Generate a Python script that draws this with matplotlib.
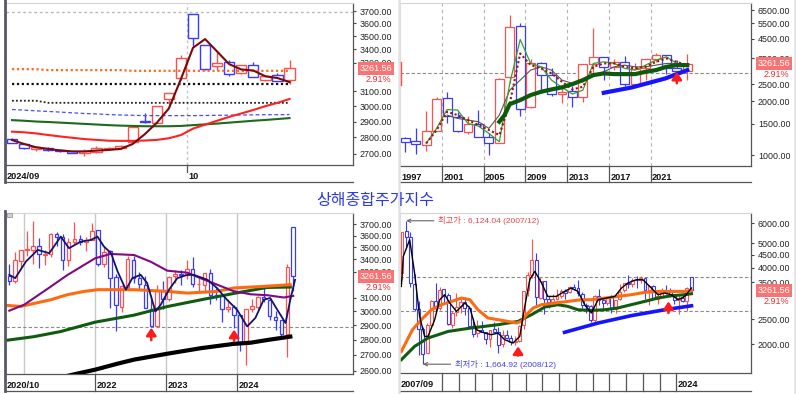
import matplotlib
matplotlib.use("Agg")
import matplotlib.pyplot as plt
from matplotlib import transforms
from matplotlib.patches import Rectangle
from matplotlib.ticker import FixedLocator, FixedFormatter, NullLocator

plt.rcParams['font.family'] = ['Liberation Sans', 'Noto Sans CJK KR', 'DejaVu Sans']

W, H = 796, 394
UP, DN = '#ff5050', '#3a3aff'

last_price = 3261.56
last_pct = '2.91%'

# ---------------- 일봉 (2024/09/06 ~ 2024/10/18) ----------------
tl_open = [2788, 2757, 2732, 2737, 2722, 2717, 2705, 2714, 2733, 2734, 2770, 2901,
           2893, 3049, 3195, 3674, 3433, 3276, 3306, 3224, 3288, 3180, 3214, 3178]
tl_high = [2796, 2760, 2745, 2743, 2727, 2720, 2730, 2746, 2743, 2755, 2864, 2952,
           3000, 3087, 3358, 3674, 3433, 3382, 3318, 3284, 3308, 3215, 3231, 3322]
tl_low = [2765, 2729, 2718, 2718, 2710, 2703, 2689, 2707, 2728, 2728, 2763, 2889,
          2889, 3017, 3180, 3429, 3250, 3251, 3205, 3218, 3200, 3174, 3168, 3152]
tl_close = [2765.8, 2736.5, 2744.2, 2721.8, 2717.1, 2704.1, 2717.3, 2736.0, 2736.8, 2748.9,
            2863.1, 2896.3, 3000.9, 3087.5, 3336.5, 3489.8, 3258.9, 3301.9, 3217.7, 3284.3,
            3201.2, 3202.9, 3169.4, 3261.56]
tl_ma_short = [2784, 2760, 2740, 2730, 2721, 2715, 2715, 2720, 2724, 2730, 2760, 2820,
               2892, 2985, 3185, 3412, 3478, 3384, 3291, 3253, 3245, 3204, 3192, 3163]
tl_ma_red = [2836, 2832, 2825, 2815, 2806, 2798, 2790, 2785, 2780, 2779, 2779, 2781,
             2785, 2795, 2815, 2855, 2880, 2905, 2930, 2952, 2975, 3000, 3022, 3048]
tl_ma_green = [2909, 2905, 2900, 2897, 2893, 2889, 2885, 2881, 2877, 2874, 2872, 2870,
               2870, 2870, 2872, 2877, 2882, 2887, 2893, 2899, 2905, 2910, 2916, 2922]
tl_ma_blue = [2978, 2974, 2969, 2965, 2961, 2956, 2952, 2949, 2945, 2942, 2940, 2938,
              2938, 2938, 2938, 2938, 2939, 2940, 2941, 2942, 2943, 2944, 2944, 2945]
tl_lvl_orange = [3255, 3255, 3255, 3248, 3248, 3248, 3248, 3248, 3248, 3248, 3243, 3243,
                 3243, 3243, 3243, 3243, 3243, 3243, 3243, 3243, 3243, 3243, 3243, 3243]
tl_lvl_black1 = [3150] * 24
tl_lvl_black2 = [3036, 3036, 3036] + [3022] * 21
tl_top_line = 3690
tl_month_sep = 14.5
tl_ticks = [2700, 2800, 2900, 3000, 3100, 3300, 3400, 3500, 3600, 3700]

# ---------------- 년봉 (1997 ~ 2024) ----------------
tr_years = list(range(1997, 2025))
tr_open = [1240, 1195, 1144, 1368, 2077, 1643, 1347, 1492, 1261, 1163, 2728, 5265, 1849, 3289,
           2825, 2212, 2289, 2112, 3258, 3536, 3105, 3314, 2497, 3066, 3474, 3649, 3087, 2972]
tr_high = [1270, 1422, 1756, 2125, 2245, 1748, 1649, 1783, 1328, 2698, 6124, 5522, 3478, 3306,
           3067, 2478, 2444, 3239, 5178, 3538, 3450, 3587, 3288, 3474, 3731, 3652, 3418, 3674]
tr_low = [1043, 1013, 1047, 1361, 1514, 1339, 1307, 1259, 998, 1161, 2541, 1664, 1844, 2319,
          2134, 1949, 1849, 1974, 2850, 2638, 3016, 2449, 2440, 2646, 3312, 2863, 2882, 2635]
tr_close = [1187, 1147, 1367, 2073, 1646, 1358, 1497, 1267, 1161, 2675, 5262, 1821, 3277, 2808,
            2199, 2269, 2116, 3235, 3539, 3104, 3307, 2494, 3050, 3473, 3640, 3089, 2975, 3262]
tr_green_x = list(range(2, 28))
tr_green_v = [1163, 1411, 1800, 1788, 1504, 1454, 1323, 1188, 2523, 4450, 3266, 3126, 2633,
              2396, 2198, 2314, 3266, 3334, 3266, 3062, 2996, 3196, 3408, 3557, 3266, 3126]
tr_dot_x = list(range(2, 28))
tr_dot_v = [1163, 1381, 1749, 1675, 1571, 1473, 1381, 1295, 1950, 3715, 3196, 3062, 2871,
            2576, 2334, 2415, 3126, 3266, 3266, 3126, 3062, 3126, 3334, 3483, 3334, 3196]
tr_gray_x = list(range(4, 28))
tr_gray_v = [1675, 1605, 1571, 1538, 1411, 1675, 2314, 2633, 2996, 3126, 2996, 2633, 2523,
             2576, 2808, 2931, 3126, 3196, 3126, 3126, 3196, 3266, 3266, 3196]
tr_thick_x = [9, 9.5, 10, 11, 12, 13, 14, 15, 16, 17, 18, 19, 20, 21, 22, 23, 24, 25, 26, 27]
tr_thick_v = [1538, 1675, 1930, 2034, 2170, 2265, 2334, 2396, 2500, 2633, 2808, 2871, 2845,
              2845, 2845, 2931, 2996, 3126, 3196, 3196]
tr_trend_x = [19, 21.7, 24.9, 27]
tr_trend_v = [2235, 2396, 2690, 2996]
tr_hline = 2892
tr_arrow = (26, 2525, 2930)
tr_ticks = [1000, 1500, 2000, 2500, 3500, 4500, 5500, 6500]

# ---------------- 월봉 (2020/10 ~ 2024/10) ----------------
bl_open = [3262, 3229, 3388, 3474, 3476, 3513, 3439, 3447, 3616, 3587, 3396, 3545, 3568, 3545,
           3563, 3649, 3358, 3471, 3257, 3032, 3181, 3392, 3251, 3196, 3013, 2896, 3147, 3087,
           3262, 3282, 3273, 3323, 3201, 3198, 3289, 3122, 3112, 3015, 3030, 2973, 2781, 3013,
           3033, 3104, 3083, 2958, 2934, 2842, 3674]
bl_high = [3365, 3457, 3475, 3637, 3732, 3581, 3481, 3625, 3629, 3615, 3581, 3723, 3602, 3591,
           3708, 3652, 3514, 3477, 3282, 3195, 3429, 3424, 3299, 3264, 3116, 3198, 3226, 3265,
           3310, 3311, 3396, 3418, 3261, 3291, 3322, 3172, 3115, 3089, 3047, 2976, 3015, 3092,
           3113, 3175, 3093, 3003, 2935, 3358, 3674]
bl_low = [3195, 3209, 3326, 3431, 3358, 3328, 3357, 3416, 3511, 3312, 3343, 3525, 3515, 3470,
          3559, 3348, 3341, 3023, 2863, 2997, 3173, 3211, 3155, 3021, 2886, 2885, 3017, 3074,
          3208, 3195, 3243, 3181, 3150, 3135, 3053, 3081, 2923, 2996, 2882, 2724, 2635, 2993,
          3012, 3069, 2934, 2865, 2815, 2689, 3152]
bl_close = [3225, 3392, 3473, 3483, 3509, 3442, 3447, 3615, 3591, 3397, 3544, 3568, 3547, 3564,
            3640, 3362, 3462, 3252, 3047, 3186, 3399, 3253, 3202, 3024, 2893, 3151, 3089, 3256,
            3280, 3273, 3323, 3205, 3202, 3291, 3120, 3110, 3019, 3030, 2975, 2789, 3015, 3041,
            3104, 3087, 2967, 2939, 2842, 3336, 3262]
bl_navy_x = [0, 1, 2.8, 4.8, 6.75, 8.7, 10.1, 12.1, 13.8, 14.9, 16, 17.2, 18.3, 19.7, 20.8,
             22.2, 23.3, 24.7, 25.6, 27, 28.4, 30.1, 31.2, 33.5, 35.1, 36.8, 38.5, 40.2, 41.6,
             43, 44.1, 45.3, 46.7, 47.5, 48.3]
bl_navy_v = [3275, 3249, 3381, 3478, 3450, 3591, 3492, 3548, 3562, 3591, 3506, 3450, 3302,
             3160, 3249, 3275, 3211, 2998, 3048, 3160, 3249, 3275, 3275, 3236, 3173, 3084,
             3011, 2892, 2952, 3084, 3097, 3011, 2916, 3084, 3236]
bl_purple_x = [0, 2.5, 7.0, 9.8, 14.5, 17.1, 21.1, 23.9, 26.7, 30.1, 32.3, 35.1, 37.9, 40.8,
               43.6, 46.4, 48]
bl_purple_v = [3004, 3047, 3183, 3273, 3408, 3444, 3435, 3380, 3308, 3292, 3249, 3199, 3149,
               3125, 3118, 3101, 3113]
bl_orange_x = [-0.3, 1.9, 7.0, 9.8, 12.7, 15, 21, 26.7, 30.1, 35.1, 38, 43, 47.5]
bl_orange_v = [3042, 3035, 3084, 3122, 3147, 3160, 3160, 3147, 3134, 3147, 3173, 3185, 3198]
bl_green_x = [-0.3, 4.2, 8.7, 14.5, 21.1, 26.7, 32.3, 37.9, 43.6, 47.5]
bl_green_v = [2798, 2822, 2857, 2922, 2972, 3034, 3083, 3131, 3177, 3180]
bl_black_x = [9, 11.2, 14.5, 18.3, 21.1, 26.7, 32.3, 37.9, 40.8, 43.6, 47.5]
bl_black_v = [2560, 2579, 2606, 2644, 2670, 2708, 2744, 2773, 2781, 2799, 2822]
bl_hline = 2885
bl_arrows = [(24, 2798, 2883), (38, 2793, 2870)]
bl_year_sep = [2.5, 14.5, 26.5, 38.5]
bl_year_lab = ['', '2022', '2023', '2024']
bl_ticks = [2600, 2700, 2800, 2900, 3000, 3100, 3300, 3400, 3500, 3600, 3700]

# ---------------- 분기봉 (2007/09 ~ 2024/12) ----------------
br_open = [3820, 5562, 5265, 3461, 2741, 2294, 1849, 2379, 2967, 2775, 3289, 3115, 2379, 2665,
           2825, 2932, 2767, 2363, 2212, 2262, 2226, 2087, 2289, 2234, 1994, 2170, 2112, 2034,
           2050, 2366, 3258, 3740, 4277, 3038, 3536, 3007, 2931, 3002, 3105, 3226, 3197, 3352,
           3314, 3163, 2840, 2818, 2497, 3101, 2988, 2909, 3066, 2743, 3000, 3262, 3474, 3439,
           3587, 3568, 3649, 3257, 3392, 3013, 3087, 3273, 3198, 3112, 2973, 3033, 2958, 3674]
br_high = [5552, 6124, 5522, 3786, 2953, 2334, 2429, 2991, 3478, 3361, 3306, 3181, 2700, 3186,
           3003, 3067, 2827, 2536, 2478, 2454, 2228, 2276, 2444, 2334, 2270, 2271, 2177, 2146,
           2375, 3239, 3835, 5178, 4572, 3684, 3538, 3097, 3140, 3301, 3301, 3295, 3391, 3450,
           3587, 3220, 2915, 2842, 3130, 3288, 3048, 3050, 3127, 2995, 3458, 3475, 3732, 3629,
           3723, 3708, 3652, 3429, 3424, 3226, 3311, 3418, 3322, 3115, 3092, 3175, 3358, 3674]
br_low = [3563, 4778, 3357, 2693, 1802, 1665, 1844, 2353, 2639, 2712, 2890, 2382, 2319, 2574,
          2661, 2610, 2307, 2134, 2132, 2224, 2000, 1949, 2204, 1849, 1951, 2087, 1974, 1991,
          2044, 2296, 3095, 3654, 2850, 3023, 2638, 2781, 2917, 2969, 3044, 3016, 3176, 3255,
          3091, 2782, 2644, 2449, 2440, 2838, 2733, 2857, 2647, 2646, 2994, 3195, 3328, 3357,
          3312, 3470, 3023, 2863, 3021, 2886, 3074, 3150, 3053, 2882, 2635, 2934, 2689, 3152]
br_close = [5552, 5262, 3473, 2736, 2293, 1821, 2374, 2959, 2779, 3277, 3109, 2398, 2656, 2808,
            2928, 2762, 2359, 2199, 2263, 2225, 2086, 2269, 2237, 1979, 2175, 2116, 2033, 2048,
            2364, 3235, 3748, 4277, 3053, 3539, 3004, 2930, 3005, 3104, 3223, 3192, 3349, 3307,
            3169, 2847, 2821, 2494, 3091, 2979, 2905, 3050, 2750, 2985, 3218, 3473, 3442, 3591,
            3568, 3640, 3252, 3399, 3024, 3089, 3273, 3202, 3110, 2975, 3041, 2967, 3336, 3262]
br_black_x = [-0.16, 0.3, 1.83, 3.0, 4.2, 5.4, 6.2, 7.8, 9.0, 10.2, 11.4, 13.0, 15.0, 16.2,
              17.7, 19.7, 21.3, 22.9, 24.5, 26.5, 28.1, 29.3, 30.5, 31.7, 33.3, 34.8, 36.8,
              38.8, 40.4, 42.0, 43.6, 45.2, 46.8, 48.8, 50.8, 52.4, 53.9, 55.9, 57.5, 59.5,
              61.1, 62.7, 64.3, 65.9, 67.5, 69.1]
br_black_v = [3374, 4431, 5157, 3811, 2571, 2143, 2143, 2494, 2990, 3129, 2902, 2689, 2902,
              2774, 2278, 2210, 2176, 2210, 2080, 2018, 2143, 2814, 3586, 3870, 3480, 3081,
              3081, 3224, 3326, 3224, 2858, 2651, 2990, 3036, 3081, 3326, 3480, 3586, 3586,
              3326, 3129, 3177, 3129, 2990, 3081, 3326]
br_orange_x = [-0.16, 2.5, 5.0, 7.0, 9.4, 11.8, 14.2, 16.2, 18.1, 20.5, 22.9, 25.3, 27.3, 28.5,
               29.7, 31.3, 33.3, 36.4, 39.6, 42.8, 45.2, 48.4, 51.5, 54.7, 57.9, 61.1, 64.3,
               67.5, 69.1]
br_orange_v = [1869, 2278, 2533, 2730, 2858, 2944, 3036, 2990, 2730, 2533, 2494, 2456, 2420,
               2456, 2610, 2774, 2858, 2902, 2944, 2990, 2990, 3036, 3081, 3129, 3196, 3224,
               3224, 3224, 3245]
br_green_x = [-0.16, 3.0, 6.2, 11.0, 16.5, 22.9, 27.7, 30.9, 34.1, 37.2, 39.6, 42.0, 45.2,
              48.4, 51.5, 54.7, 57.9, 61.1, 64.3, 67.5, 69.1]
br_green_v = [1734, 1957, 2111, 2242, 2313, 2383, 2456, 2610, 2798, 2858, 2814, 2730, 2714,
              2730, 2774, 2858, 2944, 3036, 3100, 3129, 3158]
br_trend_x = [38.8, 46.8, 54.7, 62.7, 69.1]
br_trend_v = [2224, 2420, 2587, 2730, 2830]
br_hlines = [3674, 2689]
br_arrows = [(27.7, 1800, 1957), (63.6, 2651, 2944)]
br_hi = (1, 6124.04, '최고가 : 6,124.04 (2007/12)')
br_lo = (5, 1664.92, '최저가 : 1,664.92 (2008/12)')
br_ticks = [2000, 2500, 3500, 4000, 4500, 5000, 6000]


fig = plt.figure(figsize=(W / 100, H / 100), dpi=100)


def rect(x0, y0, x1, y1):
    return [x0 / W, 1 - y1 / H, (x1 - x0) / W, (y1 - y0) / H]


def candles(ax, o, h, l, c, w, lw):
    for i, (oo, hh, ll, cc) in enumerate(zip(o, h, l, c)):
        col = UP if cc >= oo else DN
        ax.vlines(i, ll, hh, color=col, lw=lw, zorder=3)
        ax.bar(i, abs(cc - oo), bottom=min(oo, cc), width=w, facecolor='white',
               edgecolor=col, lw=lw, zorder=4)


def setup(ax, xlim, ylim, ticks):
    ax.set_yscale('log')
    ax.set_xlim(*xlim)
    ax.set_ylim(*ylim)
    ax.yaxis.tick_right()
    ax.yaxis.set_major_locator(FixedLocator(ticks))
    ax.yaxis.set_major_formatter(FixedFormatter(['%.2f' % t for t in ticks]))
    ax.yaxis.set_minor_locator(NullLocator())
    ax.tick_params(axis='y', direction='out', length=2.5, width=0.8, pad=2.5,
                   labelsize=6.4, colors='#444', labelcolor='#222')
    ax.set_xticks([])
    for s in ['top', 'left']:
        ax.spines[s].set_color('#d4d4d4')
        ax.spines[s].set_linewidth(0.8)
    for s in ['right', 'bottom']:
        ax.spines[s].set_color('#555555')
        ax.spines[s].set_linewidth(0.9)


def last_box(ax):
    tr = transforms.blended_transform_factory(ax.transAxes, ax.transData)
    ax.annotate('%.2f' % last_price, xy=(1, last_price), xycoords=tr, xytext=(16.5, 0),
                textcoords='offset points', ha='center', va='center', fontsize=6.5,
                color='white', annotation_clip=False, zorder=20,
                bbox=dict(boxstyle='square,pad=0.22', fc='#f87474', ec='none'))
    ax.annotate(last_pct, xy=(1, last_price), xycoords=tr, xytext=(18, -8),
                textcoords='offset points', ha='center', va='center', fontsize=6.5,
                color='#f03030', annotation_clip=False, zorder=20)


def band(ax, depth, seps, labels, first, sep_full=True):
    bt = transforms.blended_transform_factory(ax.transData, ax.transAxes)
    ax.plot([0, 1], [-depth, -depth], transform=ax.transAxes, color='#555555', lw=0.9,
            clip_on=False)
    x0 = ax.get_xlim()[0]
    ax.annotate(first, xy=(x0, 0), xycoords=bt, xytext=(0.8, -8.4), textcoords='offset points',
                ha='left', va='center', fontsize=6.6, fontweight='bold', color='#111',
                annotation_clip=False)
    for s, lab in zip(seps, labels):
        ax.plot([s, s], [0, -depth if sep_full else -0.045], transform=bt, color='#555555',
                lw=0.9, clip_on=False)
        if lab:
            ax.annotate(lab, xy=(s, 0), xycoords=bt, xytext=(0.9, -8.4),
                        textcoords='offset points', ha='left', va='center', fontsize=6.6,
                        fontweight='bold', color='#111', annotation_clip=False)


def up_arrow(ax, x, tail, tip):
    ax.annotate('', xy=(x, tip), xytext=(x, tail), zorder=9,
                arrowprops=dict(arrowstyle='-|>,head_width=0.3,head_length=0.45',
                                color='#ff1a1a', lw=1.8, shrinkA=0, shrinkB=0,
                                mutation_scale=10))


# ---------- top-left: daily ----------
ax1 = fig.add_axes(rect(6, 3, 353, 165))
setup(ax1, (-0.5, 28.26), (2635, 3766), tl_ticks)
xs = range(len(tl_close))
ax1.axhline(tl_top_line, color='#b8b8b8', lw=1, ls=(0, (2, 2)), zorder=1)
ax1.axvline(tl_month_sep, color='#c4c4c4', lw=1, ls=(0, (2, 2)), zorder=1)
candles(ax1, tl_open, tl_high, tl_low, tl_close, 0.85, 1.0)
ax1.plot(xs, tl_lvl_orange, color='#ff6a1a', lw=1.6, ls=(0, (1, 1.2)), zorder=5)
ax1.plot(xs, tl_lvl_black1, color='#111111', lw=1.6, ls=(0, (1, 1.2)), zorder=5)
ax1.plot(xs, tl_lvl_black2, color='#222222', lw=1.3, ls=(0, (1, 1.2)), zorder=5)
ax1.plot(xs, tl_ma_blue, color='#4a4aff', lw=0.9, ls=(0, (3, 2)), zorder=5)
ax1.plot(xs, tl_ma_green, color='#1d6a1d', lw=1.5, zorder=5)
ax1.plot(xs, tl_ma_red, color='#ff2222', lw=1.5, zorder=5)
ax1.plot(xs, tl_ma_short, color='#7a0a0a', lw=1.5, zorder=6)
last_box(ax1)
band(ax1, 0.105, [tl_month_sep], ['10'], '2024/09', sep_full=False)

# ---------- top-right: yearly ----------
ax2 = fig.add_axes(rect(400, 3, 751, 166))
setup(ax2, (-0.51, 33.1), (868, 7130), tr_ticks)
xs = range(len(tr_close))
for k in range(len(tr_years)):
    if tr_years[k] % 4 == 1 and k > 0:
        ax2.axvline(k - 0.5, color='#b4b4b4', lw=0.8, ls=(0, (3, 3)), zorder=1)
ax2.axhline(tr_hline, color='#8a8a8a', lw=0.8, ls=(0, (3, 2)), zorder=1)
candles(ax2, tr_open, tr_high, tr_low, tr_close, 0.85, 0.9)
ax2.plot(tr_gray_x, tr_gray_v, color='#555555', lw=0.8, zorder=5)
ax2.plot(tr_green_x, tr_green_v, color='#33a033', lw=0.9, zorder=5)
ax2.plot(tr_dot_x, tr_dot_v, color='#a01010', lw=1.5, ls=(0, (1, 1.2)), zorder=5)
ax2.plot(tr_thick_x, tr_thick_v, color='#0c5a0c', lw=3.0, zorder=6)
ax2.plot(tr_trend_x, tr_trend_v, color='#1414ff', lw=3.0, zorder=6)
up_arrow(ax2, *tr_arrow)
last_box(ax2)
seps = [k - 0.5 for k in range(1, len(tr_years)) if tr_years[k] % 4 == 1]
labs = [str(tr_years[k]) for k in range(1, len(tr_years)) if tr_years[k] % 4 == 1]
band(ax2, 0.098, seps, labs, str(tr_years[0]))

# ---------- bottom-left: monthly ----------
ax3 = fig.add_axes(rect(6, 213, 353, 374))
setup(ax3, (-0.56, 58.1), (2579, 3801), bl_ticks)
for s in bl_year_sep:
    ax3.axvline(s, color='#c8c8c8', lw=1, zorder=1)
ax3.axhline(bl_hline, color='#8a8a8a', lw=0.8, ls=(0, (3, 2)), zorder=1)
candles(ax3, bl_open, bl_high, bl_low, bl_close, 0.6, 0.9)
ax3.plot(bl_black_x, bl_black_v, color='#000000', lw=3.0, zorder=5)
ax3.plot(bl_green_x, bl_green_v, color='#0f5c0f', lw=2.2, zorder=5)
ax3.plot(bl_orange_x, bl_orange_v, color='#ff6a10', lw=2.2, zorder=5)
ax3.plot(bl_purple_x, bl_purple_v, color='#800a80', lw=1.5, zorder=6)
ax3.plot(bl_navy_x, bl_navy_v, color='#14146a', lw=1.3, zorder=6)
for a in bl_arrows:
    up_arrow(ax3, *a)
last_box(ax3)
band(ax3, 0.106, bl_year_sep[1:], bl_year_lab[1:], '2020/10')

# ---------- bottom-right: quarterly ----------
ax4 = fig.add_axes(rect(400, 213, 751, 373))
setup(ax4, (-0.48, 83.3), (1537, 6572), br_ticks)
for v in br_hlines:
    ax4.axhline(v, color='#8a8a8a', lw=0.8, ls=(0, (3, 2)), zorder=1)
candles(ax4, br_open, br_high, br_low, br_close, 0.7, 0.8)
ax4.plot(br_green_x, br_green_v, color='#0f5c0f', lw=2.2, zorder=5)
ax4.plot(br_orange_x, br_orange_v, color='#ff6a10', lw=2.2, zorder=5)
ax4.plot(br_trend_x, br_trend_v, color='#1414ff', lw=2.6, zorder=5)
ax4.plot(br_black_x, br_black_v, color='#000000', lw=1.0, zorder=6)
for a in br_arrows:
    up_arrow(ax4, *a)
ax4.annotate(br_hi[2], xy=(br_hi[0], br_hi[1]), xytext=(8.6, br_hi[1]), fontsize=6,
             color='#ee4444', ha='left', va='center', zorder=9,
             arrowprops=dict(arrowstyle='->', color='#666666', lw=0.8, relpos=(0, 0.5),
                             shrinkA=1, shrinkB=0))
ax4.annotate(br_lo[2], xy=(br_lo[0], br_lo[1]), xytext=(12.6, br_lo[1]), fontsize=6,
             color='#4444ee', ha='left', va='center', zorder=9,
             arrowprops=dict(arrowstyle='->', color='#666666', lw=0.8, relpos=(0, 0.5),
                             shrinkA=1, shrinkB=0))
last_box(ax4)
br_seps = [1.5 + 4 * n for n in range(2, 17)]
br_labs = [''] * 14 + ['2024']
band(ax4, 0.1125, br_seps, br_labs, '2007/09')

# ---------- frame decorations & title ----------
ov = fig.add_axes([0, 0, 1, 1], zorder=10)
ov.set_xlim(0, W)
ov.set_ylim(H, 0)
ov.axis('off')
ov.patch.set_alpha(0)
ov.plot([4.6, 4.6], [0, 182], color='#5a5a66', lw=2.0)
ov.plot([4.6, 4.6], [211, 391], color='#5a5a66', lw=2.0)
ov.plot([398.5, 398.5], [0, H], color='#e2e2e2', lw=1.8)
ov.plot([795, 795], [0, H], color='#e2e2e2', lw=1.8)
ov.plot([400.5, 400.5], [62, 85], color='#ff5050', lw=1.0)
ov.add_patch(Rectangle((7, 212.5), 4.5, 4.5, fc='#d0d0d0', ec='#9a9a9a', lw=0.6))
ov.text(375.5, 200.5, '상해종합주가지수', ha='center', va='center', fontsize=11.5,
        color='#2d3ce0', family=['Noto Sans CJK KR'])

fig.savefig('out.png', dpi=100)
